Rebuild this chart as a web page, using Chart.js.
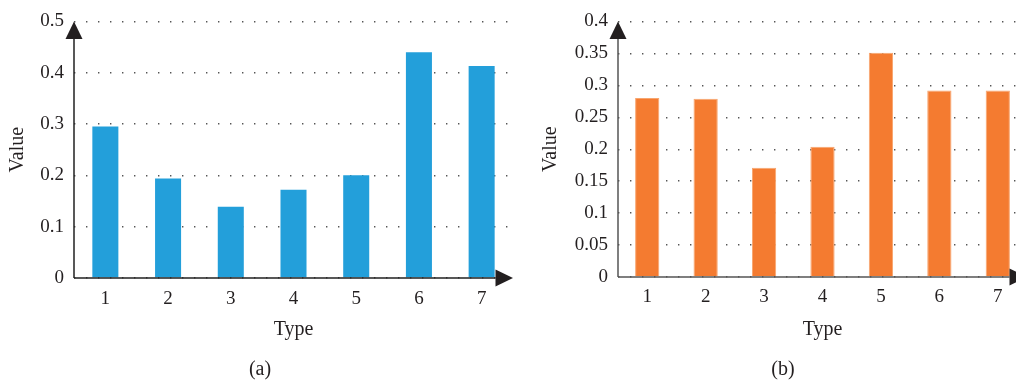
<!DOCTYPE html>
<html>
<head>
<meta charset="utf-8">
<script src="https://cdn.jsdelivr.net/npm/chart.js@4/dist/chart.umd.min.js"></script>
<style>
  html, body { margin: 0; padding: 0; background: #fff; overflow: hidden; }
  #wrap { position: relative; width: 1016px; height: 387px; overflow: hidden; }
  canvas { position: absolute; top: 0; }
  #cA { left: 0; }
  #cB { left: 520px; }
</style>
</head>
<body>
<div id="wrap">
  <canvas id="cA" width="520" height="387"></canvas>
  <canvas id="cB" width="526" height="387"></canvas>
</div>
<script>
// Categories and values for the two panels
const types = ['1', '2', '3', '4', '5', '6', '7'];
const valuesA = [0.295, 0.194, 0.139, 0.172, 0.200, 0.440, 0.413];
const valuesB = [0.280, 0.279, 0.171, 0.204, 0.351, 0.292, 0.292];
const yTicksA = { min: 0, max: 0.5, step: 0.1 };
const yTicksB = { min: 0, max: 0.4, step: 0.05 };

const FONT = '"Liberation Serif", "Times New Roman", serif';
const INK = '#231f20';

// Axis lines with arrowheads plus the panel caption underneath
const axesPlugin = {
  id: 'arrowAxes',
  afterDatasetsDraw(chart, args, opts) {
    const { ctx, chartArea: a } = chart;
    const head = 17.5, half = 8.5;
    ctx.save();
    ctx.strokeStyle = opts.lineColor || '#333';
    ctx.lineWidth = 1.5;
    ctx.beginPath();
    ctx.moveTo(a.left, a.bottom);
    ctx.lineTo(a.left, a.top + head);
    ctx.moveTo(a.left, a.bottom);
    ctx.lineTo(a.right - head, a.bottom);
    ctx.stroke();
    ctx.fillStyle = INK;
    ctx.beginPath();
    ctx.moveTo(a.left, a.top);
    ctx.lineTo(a.left - half, a.top + head);
    ctx.lineTo(a.left + half, a.top + head);
    ctx.closePath();
    ctx.fill();
    ctx.beginPath();
    ctx.moveTo(a.right, a.bottom);
    ctx.lineTo(a.right - head, a.bottom - half);
    ctx.lineTo(a.right - head, a.bottom + half);
    ctx.closePath();
    ctx.fill();
    ctx.restore();
  },
  afterDraw(chart, args, opts) {
    const { ctx } = chart;
    ctx.save();
    ctx.fillStyle = INK;
    ctx.font = '20px ' + FONT;
    ctx.textAlign = 'center';
    ctx.textBaseline = 'middle';
    ctx.fillText(opts.caption, chart.width / 2, 370);
    ctx.restore();
  }
};

function fmt(v) {
  return String(Number(v.toFixed(2)));
}

function makePanel(id, values, color, border, yt, cfg) {
  return new Chart(document.getElementById(id), {
    type: 'bar',
    data: {
      labels: types,
      datasets: [{
        data: values,
        backgroundColor: color,
        borderColor: border,
        borderWidth: cfg.barBorder,
        barPercentage: 0.415,
        categoryPercentage: 1.0
      }]
    },
    plugins: [axesPlugin],
    options: {
      responsive: false,
      animation: false,
      events: [],
      layout: { padding: { top: 15, right: cfg.padRight, left: 0, bottom: 0 } },
      plugins: {
        legend: { display: false },
        tooltip: { enabled: false },
        arrowAxes: { caption: cfg.caption, lineColor: cfg.axisColor }
      },
      scales: {
        x: {
          offset: true,
          grid: { display: false, drawTicks: false },
          border: { display: false },
          ticks: { color: INK, font: { family: FONT, size: 19 }, padding: cfg.xTickPad },
          title: {
            display: true, text: 'Type', color: INK,
            font: { family: FONT, size: 20 },
            padding: { top: 0, bottom: 45 }
          },
          afterFit(scale) { scale.height = cfg.xHeight; }
        },
        y: {
          min: yt.min, max: yt.max,
          grid: { color: '#555555', lineWidth: 1.4, drawTicks: false },
          border: { display: false, dash: [1.4, 10.6] },
          ticks: {
            stepSize: yt.step, color: INK, padding: 10,
            font: { family: FONT, size: 19 },
            callback: (v) => fmt(v)
          },
          title: {
            display: true, text: 'Value', color: INK,
            font: { family: FONT, size: 20 },
            padding: { top: cfg.yTitlePad, bottom: 0 }
          },
          afterFit(scale) { scale.width = cfg.yWidth; }
        }
      }
    }
  });
}

makePanel('cA', valuesA, '#239fda', '#239fda', yTicksA, {
  caption: '(a)', padRight: 7, yWidth: 74, xHeight: 109, xTickPad: 10,
  yTitlePad: 5.5, barBorder: 0, axisColor: '#222222'
});

makePanel('cB', valuesB, '#f47b30', '#f8a56e', yTicksB, {
  caption: '(b)', padRight: 19, yWidth: 98, xHeight: 110, xTickPad: 9,
  yTitlePad: 18.5, barBorder: 1, axisColor: '#555555'
});
</script>
</body>
</html>
